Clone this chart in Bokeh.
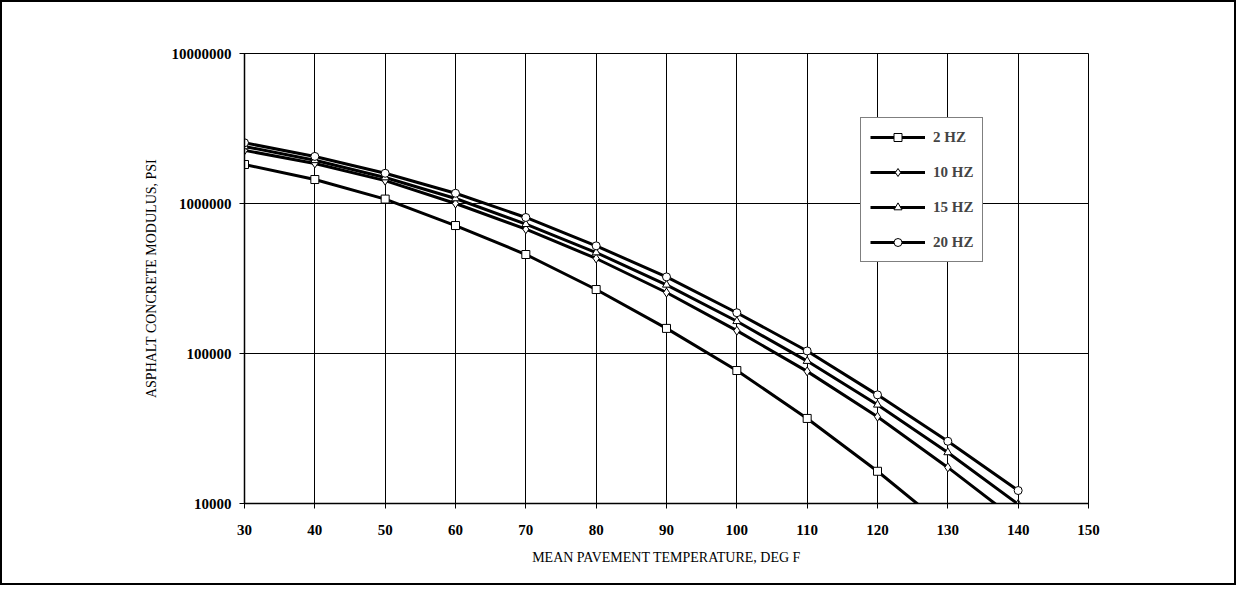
from bokeh.plotting import figure
from bokeh.models import Range1d, FixedTicker, Legend, LegendItem, PrintfTickFormatter
from bokeh.embed import file_html
from bokeh.resources import INLINE

# ---- data ----
temps = [30, 40, 50, 60, 70, 80, 90, 100, 110, 120, 130, 140]
temps_2hz = [30, 40, 50, 60, 70, 80, 90, 100, 110, 120, 130]
hz2 = [1820000, 1445000, 1070000, 713000, 457000, 267000, 147000, 77000, 36900, 16400, 6800]
hz10 = [2260000, 1850000, 1420000, 1000000, 674000, 430000, 255000, 142000, 76000, 37900, 17400, 7600]
hz15 = [2400000, 1940000, 1490000, 1080000, 728000, 471000, 287000, 164000, 89000, 45500, 21900, 9900]
hz20 = [2540000, 2060000, 1590000, 1170000, 807000, 522000, 324000, 187000, 104000, 53000, 26000, 12200]
series_labels = ["2 HZ", "10 HZ", "15 HZ", "20 HZ"]

x_ticks = [30, 40, 50, 60, 70, 80, 90, 100, 110, 120, 130, 140, 150]
y_ticks = [10000, 100000, 1000000, 10000000]
y_tick_labels = ["10000", "100000", "1000000", "10000000"]

x_title = "MEAN PAVEMENT TEMPERATURE, DEG F"
y_title = "ASPHALT CONCRETE MODULUS, PSI"

FONT = "Liberation Serif"

p = figure(width=1236, height=585,
           x_range=Range1d(30, 150), y_range=Range1d(10000, 10000000),
           y_axis_type="log", output_backend="svg", toolbar_location=None,
           min_border_left=242, min_border_right=150,
           min_border_top=51, min_border_bottom=84)
p.styles = {"border": "2px solid black"}
p.background_fill_color = "white"
p.border_fill_color = "white"
p.outline_line_color = "black"
p.outline_line_width = 1

# axes
p.xaxis.ticker = FixedTicker(ticks=x_ticks, minor_ticks=[])
p.yaxis.ticker = FixedTicker(ticks=y_ticks, minor_ticks=[])
p.yaxis.formatter = PrintfTickFormatter(format="%d")
p.yaxis.major_label_overrides = {float(v): s for v, s in zip(y_ticks, y_tick_labels)}

for ax in (p.xaxis, p.yaxis):
    ax.axis_line_color = "black"
    ax.axis_line_width = 1.5
    ax.major_tick_line_color = "black"
    ax.major_tick_line_width = 1
    ax.major_tick_out = 5
    ax.major_tick_in = 3
    ax.minor_tick_line_color = None
    ax.major_label_text_font = FONT
    ax.major_label_text_font_style = "bold"
    ax.major_label_text_font_size = "15px"
    ax.major_label_text_color = "black"
    ax.axis_label_text_font = FONT
    ax.axis_label_text_font_style = "normal"
    ax.axis_label_text_font_size = "14px"
    ax.axis_label_text_color = "black"

p.xaxis.axis_label = x_title
p.yaxis.axis_label = y_title
p.xaxis.major_label_standoff = 16
p.yaxis.major_label_standoff = 8
p.xaxis.axis_label_standoff = 12
p.yaxis.axis_label_standoff = 10

p.xgrid.grid_line_color = "black"
p.ygrid.grid_line_color = "black"
p.xgrid.grid_line_width = 1
p.ygrid.grid_line_width = 1

# series
LW = 3
r2l = p.line(temps_2hz, hz2, line_color="black", line_width=LW)
r2m = p.scatter(temps_2hz, hz2, marker="square", size=8, fill_color="white", line_color="black", line_width=1)
r10l = p.line(temps, hz10, line_color="black", line_width=LW)
r10m = p.scatter(temps, hz10, marker="diamond", size=9, fill_color="white", line_color="black", line_width=1)
r15l = p.line(temps, hz15, line_color="black", line_width=LW)
r15m = p.scatter(temps, hz15, marker="triangle", size=8, fill_color="white", line_color="black", line_width=1)
r20l = p.line(temps, hz20, line_color="black", line_width=LW)
r20m = p.scatter(temps, hz20, marker="circle", size=8, fill_color="white", line_color="black", line_width=1)

legend = Legend(items=[
    LegendItem(label=series_labels[0], renderers=[r2l, r2m]),
    LegendItem(label=series_labels[1], renderers=[r10l, r10m]),
    LegendItem(label=series_labels[2], renderers=[r15l, r15m]),
    LegendItem(label=series_labels[3], renderers=[r20l, r20m]),
], location=(616, 241))
legend.margin = 0
legend.padding = 9
legend.spacing = 15
legend.glyph_width = 55
legend.glyph_height = 20
legend.label_standoff = 8
legend.label_text_font = FONT
legend.label_text_font_style = "bold"
legend.label_text_font_size = "15px"
legend.border_line_color = "black"
legend.border_line_width = 1.5
legend.background_fill_color = "white"
legend.background_fill_alpha = 1
p.add_layout(legend, "center")

open("out.html", "w").write(file_html(p, INLINE))
